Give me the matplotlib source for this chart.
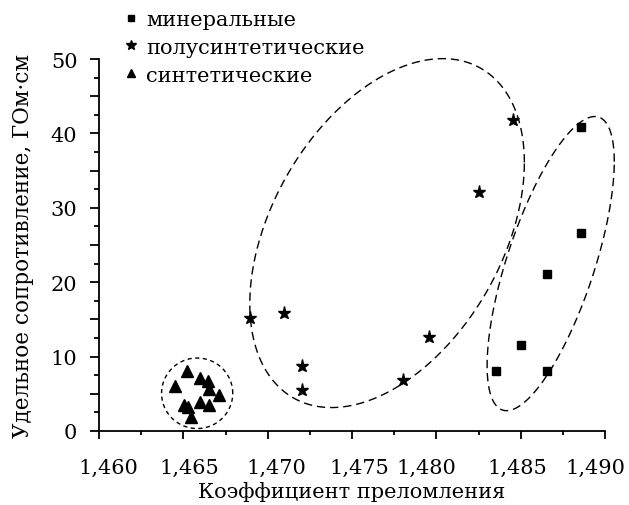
import numpy as np
import matplotlib
matplotlib.use("Agg")
import matplotlib.pyplot as plt
from matplotlib.ticker import MultipleLocator, FuncFormatter
from matplotlib.lines import Line2D
from matplotlib.transforms import ScaledTranslation

plt.rcParams['font.family'] = ['DejaVu Serif']

# --- data ---
mineral_x = [1.48857, 1.48859, 1.48655, 1.48503, 1.48353, 1.48655]
mineral_y = [40.9, 26.6, 21.1, 11.6, 8.0, 8.0]

semi_x = [1.48456, 1.48252, 1.46896, 1.47099, 1.47202, 1.47202, 1.47956, 1.47801]
semi_y = [41.8, 32.1, 15.2, 15.8, 8.8, 5.5, 12.6, 6.8]

synth_x = [1.46449, 1.46524, 1.46599, 1.46648, 1.46654, 1.46710, 1.46599, 1.46654, 1.46504, 1.46528, 1.46547]
synth_y = [6.05, 8.0, 7.15, 6.69, 5.65, 4.8, 3.9, 3.56, 3.56, 3.23, 1.91]

labels = ["минеральные", "полусинтетические", "синтетические"]

# group ellipses: center x, center y, half-extent x, half-extent y, correlation
ell_cx = [1.47708, 1.48678, 1.46582]
ell_cy = [26.6, 22.5, 5.07]
ell_wx = [0.00814, 0.00377, 0.00211]
ell_wy = [23.45, 19.77, 4.74]
ell_r = [0.405, 0.693, 0.0]

xticks = [1.460, 1.465, 1.470, 1.475, 1.480, 1.485, 1.490]
# horizontal nudges of x tick labels (pixels), as typeset in the original
xlabel_shift = [9, 6, 9, 7, -10, -3, -10]

W, H = 629, 506
fig = plt.figure(figsize=(W / 100, H / 100), dpi=100)
ax = fig.add_axes([99 / W, 1 - 432 / H, (605 - 99) / W, (432 - 60) / H])

ax.plot(mineral_x, mineral_y, 's', color='black', ms=6.2, ls='none')
ax.plot(semi_x, semi_y, '*', color='black', ms=9.5, ls='none')
ax.plot(synth_x, synth_y, '^', color='black', ms=8, ls='none')

t = np.linspace(0, 2 * np.pi, 400)
dashes = [(0, (6, 3.5)), (0, (6, 3.5)), (0, (3, 2.5))]
for cx, cy, wx, wy, r, d in zip(ell_cx, ell_cy, ell_wx, ell_wy, ell_r, dashes):
    ex = cx + wx * np.cos(t)
    ey = cy + wy * (r * np.cos(t) + np.sqrt(1 - r ** 2) * np.sin(t))
    ax.plot(ex, ey, color='black', lw=1.0, linestyle=d, clip_on=False)

ax.set_xlim(1.460, 1.490)
ax.set_ylim(0, 50)
ax.set_xticks(xticks)
ax.xaxis.set_minor_locator(MultipleLocator(0.0025))
ax.yaxis.set_major_locator(MultipleLocator(5))
ax.yaxis.set_minor_locator(MultipleLocator(2.5))
ax.xaxis.set_major_formatter(FuncFormatter(lambda v, p: f"{v:.3f}".replace('.', ',')))
ax.yaxis.set_major_formatter(FuncFormatter(lambda v, p: f"{v:.0f}" if abs(v % 10) < 1e-6 or abs(v % 10 - 10) < 1e-6 else ""))

for s in ['top', 'right']:
    ax.spines[s].set_visible(False)
for s in ['left', 'bottom']:
    ax.spines[s].set_linewidth(1.3)

ax.tick_params(axis='both', which='major', direction='out', width=1.3, labelsize=15)
ax.tick_params(axis='x', which='major', length=6, pad=13.5)
ax.tick_params(axis='x', which='minor', direction='out', length=3, width=1.3)
ax.tick_params(axis='y', which='major', length=6.5, pad=9)
ax.tick_params(axis='y', which='minor', direction='out', length=3.3, width=1.3)

fig.canvas.draw()
for lab, dx in zip(ax.get_xticklabels(), xlabel_shift):
    lab.set_transform(lab.get_transform() + ScaledTranslation(dx / 100, 0, fig.dpi_scale_trans))

ax.set_xlabel("Коэффициент преломления", fontsize=15, labelpad=3)
ax.set_ylabel("Удельное сопротивление, ГОм·см", fontsize=15.5, labelpad=12)

handles = [
    Line2D([], [], marker='s', color='black', ls='none', ms=5),
    Line2D([], [], marker='*', color='black', ls='none', ms=7),
    Line2D([], [], marker='^', color='black', ls='none', ms=6),
]
fig.legend(handles, labels, loc='upper left', bbox_to_anchor=(123 / W, 1 - 11 / H),
           frameon=False, fontsize=15, handlelength=0.8, handletextpad=0.3,
           labelspacing=0.42, borderaxespad=0, borderpad=0)

fig.savefig("out.png", dpi=100)
